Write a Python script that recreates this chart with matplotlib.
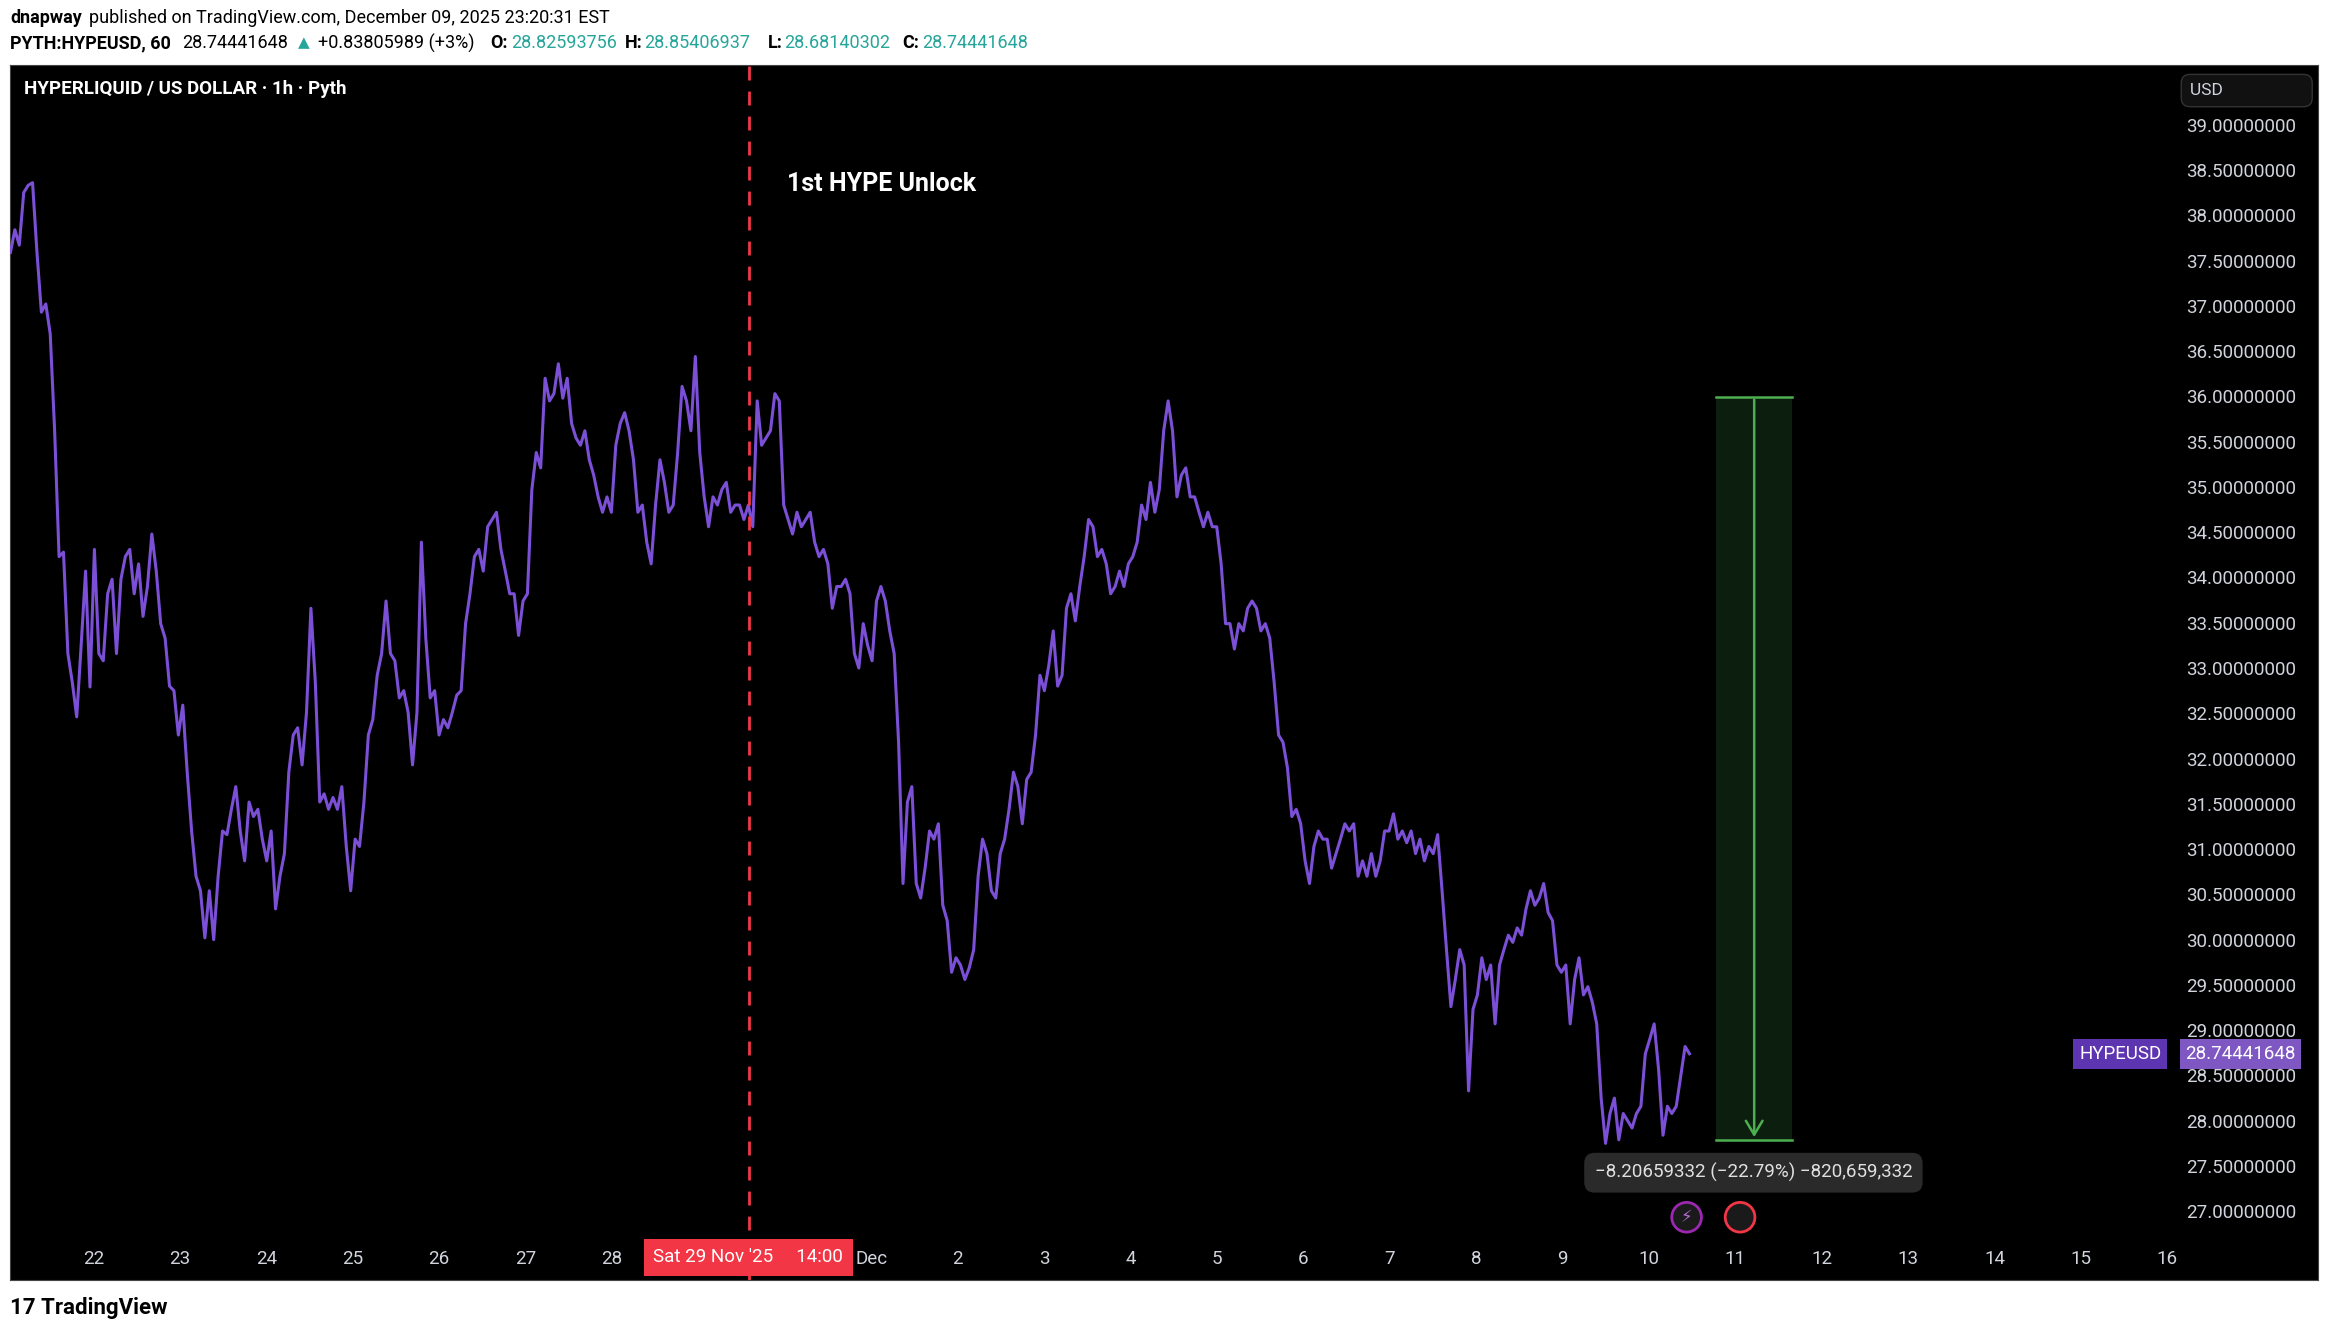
import numpy as np
import pandas as pd
import matplotlib
matplotlib.use("Agg")
import matplotlib.pyplot as plt
import matplotlib.dates as mdates
from matplotlib.patches import Rectangle, Ellipse

# closes, evenly spaced in time
price = [
    37.59, 37.84, 37.67, 38.25, 38.33, 38.36, 37.59, 36.93, 37.02, 36.69, 35.62, 34.23, 34.28, 33.16, 32.84,
    32.46, 33.25, 34.07, 32.79, 34.31, 33.16, 33.08, 33.82, 33.98, 33.16, 33.98, 34.23, 34.31, 33.82, 34.15,
    33.57, 33.90, 34.48, 34.07, 33.49, 33.33, 32.80, 32.75, 32.26, 32.59, 31.85, 31.20, 30.70, 30.54, 30.02, 30.54,
    30.00, 30.70, 31.20, 31.16, 31.44, 31.69, 31.20, 30.87, 31.52, 31.36, 31.44, 31.11, 30.87, 31.20, 30.34, 30.70,
    30.95, 31.85, 32.26, 32.34, 31.93, 32.51, 33.66, 32.84, 31.52, 31.61, 31.44, 31.57, 31.44, 31.69, 31.03, 30.54,
    31.11, 31.03, 31.52, 32.26, 32.43, 32.92, 33.16, 33.74, 33.16, 33.08, 32.67, 32.75, 32.51, 31.93, 32.51,
    34.39, 33.33, 32.67, 32.75, 32.26, 32.43, 32.34, 32.51, 32.70, 32.75, 33.49, 33.82, 34.23, 34.31, 34.07, 34.56,
    34.64, 34.72, 34.31, 34.07, 33.82, 33.82, 33.36, 33.74, 33.82, 34.97, 35.38, 35.21, 36.20, 35.95, 36.03, 36.36,
    35.98, 36.20, 35.70, 35.54, 35.46, 35.62, 35.30, 35.13, 34.89, 34.72, 34.89, 34.72, 35.46, 35.70, 35.82, 35.62,
    35.30, 34.72, 34.80, 34.39, 34.15, 34.80, 35.30, 35.05, 34.72, 34.80, 35.38, 36.11, 35.95, 35.62, 36.44, 35.38,
    34.89, 34.56, 34.89, 34.80, 34.97, 35.05, 34.72, 34.80, 34.80, 34.64, 34.80, 34.56, 35.95, 35.46, 35.54, 35.62,
    36.03, 35.95, 34.80, 34.64, 34.48, 34.72, 34.56, 34.64, 34.72, 34.39, 34.23, 34.31, 34.15, 33.66, 33.90, 33.90,
    33.98, 33.82, 33.16, 33.00, 33.49, 33.25, 33.08, 33.74, 33.90, 33.74, 33.41, 33.16, 32.18, 30.62, 31.52, 31.69,
    30.62, 30.46, 30.79, 31.20, 31.11, 31.28, 30.38, 30.21, 29.64, 29.80, 29.72, 29.56, 29.69, 29.89, 30.70, 31.11,
    30.95, 30.54, 30.46, 30.95, 31.11, 31.44, 31.85, 31.69, 31.28, 31.77, 31.85, 32.26, 32.92, 32.75, 33.03, 33.41,
    32.80, 32.92, 33.66, 33.82, 33.52, 33.90, 34.23, 34.64, 34.56, 34.23, 34.31, 34.15, 33.82, 33.90, 34.07, 33.90,
    34.15, 34.23, 34.39, 34.80, 34.64, 35.05, 34.72, 34.97, 35.62, 35.95, 35.62, 34.89, 35.13, 35.21, 34.89, 34.89,
    34.72, 34.56, 34.72, 34.56, 34.56, 34.15, 33.49, 33.49, 33.21, 33.49, 33.41, 33.66, 33.74, 33.66, 33.41, 33.49,
    33.33, 32.84, 32.26, 32.18, 31.90, 31.36, 31.44, 31.28, 30.87, 30.62, 31.03, 31.20, 31.11, 31.11, 30.79, 30.95,
    31.11, 31.28, 31.20, 31.28, 30.70, 30.87, 30.70, 30.95, 30.70, 30.87, 31.20, 31.20, 31.39, 31.11, 31.20, 31.07,
    31.20, 30.95, 31.11, 30.87, 31.03, 30.95, 31.16, 30.54, 29.89, 29.26, 29.56, 29.89, 29.72, 28.33, 29.23, 29.39,
    29.80, 29.56, 29.72, 29.07, 29.72, 29.89, 30.05, 29.97, 30.13, 30.05, 30.34, 30.54, 30.38, 30.46, 30.62, 30.30,
    30.21, 29.72, 29.64, 29.72, 29.07, 29.56, 29.80, 29.39, 29.48, 29.31, 29.07, 28.25, 27.75, 28.08, 28.25, 27.79,
    28.08, 28.00, 27.92, 28.08, 28.16, 28.74, 28.90, 29.07, 28.57, 27.84, 28.16, 28.08, 28.16, 28.49, 28.82,
    28.74,
]
t_start = "2025-11-21 00:55"
t_end = "2025-12-10 11:17"
unlock_time = "2025-11-29 14:00"
box_start, box_end = "2025-12-10 18:45", "2025-12-11 15:45"
box_top, box_bottom = 35.9957, 27.789
last_price = 28.74441648
y_ticks = np.arange(27.0, 39.01, 0.5)
day_ticks = pd.date_range("2025-11-22", "2025-12-16", freq="D")
hidden_days = [pd.Timestamp("2025-11-29"), pd.Timestamp("2025-11-30")]  # under the red time label

times = pd.date_range(t_start, t_end, periods=len(price))
W, H = 1568, 900


def fx(px):
    return px / W


def fy(py):
    return 1 - py / H


fig = plt.figure(figsize=(23.28, 13.36), dpi=100)
fig.patch.set_facecolor("white")
plt.rcParams['font.family'] = ['Roboto', 'DejaVu Sans']
FS = 13.5
HS = 13

# black panel
panel = fig.add_axes([fx(7), fy(862), fx(1561 - 7), (862 - 44) / H])
panel.set_facecolor("black")
panel.set_xticks([]); panel.set_yticks([])
for s in panel.spines.values():
    s.set_color("#444444")

ax = fig.add_axes([fx(7), fy(862), fx(1462 - 7), (862 - 44) / H])
ax.patch.set_alpha(0)
for s in ax.spines.values():
    s.set_visible(False)
ax.plot(times, price, color="#7b4fd6", lw=2.2)
ax.set_xlim(pd.Timestamp(t_start) - pd.Timedelta(minutes=1), pd.Timestamp("2025-12-16 00:55"))
ax.set_ylim(26.246, 39.656)

ax.yaxis.tick_right()
ax.set_yticks(y_ticks)
ax.set_yticklabels([f"{v:.8f}" for v in y_ticks])
ax.tick_params(axis="y", length=0, pad=11, labelsize=FS, labelcolor="#d1d4dc")
ax.set_xticks([])

xt = ax.get_xaxis_transform()
for d in day_ticks:
    if d in hidden_days:
        continue
    lab = "Dec" if d.day == 1 else str(d.day)
    ax.text(d, 0.017, lab, transform=xt, color="#d1d4dc", fontsize=FS, ha="center", va="center", clip_on=False)

# unlock line
ut = pd.Timestamp(unlock_time)
ax.axvline(ut, color="#f23645", lw=2, ls=(0, (5, 4)))
fig.text(fx(504), fy(847), "Sat 29 Nov '25     14:00", color="white", fontsize=FS, va="center", ha="center",
         bbox=dict(boxstyle="square,pad=0.5", fc="#f23645", ec="none"), zorder=5)
fig.text(fx(530), fy(124), "1st HYPE Unlock", color="white", fontsize=18, fontweight="bold", va="center")
fig.text(fx(16), fy(60), "HYPERLIQUID / US DOLLAR · 1h · Pyth", color="white", fontsize=FS,
         fontweight="bold", va="center")

# measure box
b0, b1 = mdates.date2num(pd.Timestamp(box_start)), mdates.date2num(pd.Timestamp(box_end))
ax.add_patch(Rectangle((b0, box_bottom), b1 - b0, box_top - box_bottom, fc="#0c1f0f", ec="none"))
ax.plot([b0, b1], [box_top, box_top], color="#4caf50", lw=1.8)
ax.plot([b0, b1], [box_bottom, box_bottom], color="#4caf50", lw=1.8)
bm = (b0 + b1) / 2
ax.annotate("", xy=(bm, box_bottom), xytext=(bm, box_top),
            arrowprops=dict(arrowstyle="->,head_width=0.6,head_length=1.0", color="#4caf50", lw=1.8))
fig.text(fx(1181), fy(790), "−8.20659332 (−22.79%) −820,659,332", color="#e0e0e0", fontsize=FS,
         ha="center", va="center", bbox=dict(boxstyle="round,pad=0.55", fc="#2a2a2a", ec="none"))

# last price badge
fig.text(fx(1428), fy(710), "HYPEUSD", color="white", fontsize=FS, ha="center", va="center",
         bbox=dict(boxstyle="square,pad=0.3", fc="#5e35b1", ec="none"))
fig.text(fx(1509), fy(710), f"{last_price:.8f}", color="white", fontsize=FS, ha="center", va="center",
         bbox=dict(boxstyle="square,pad=0.3", fc="#7e57c2", ec="none"))

# USD box
fig.text(fx(1475), fy(61), "USD                   ", color="#d1d4dc", fontsize=FS - 1, va="center",
         bbox=dict(boxstyle="round,pad=0.5", fc="#111111", ec="#333333"))

# event icons
r = 10
for px, col in [(1136, "#9c27b0"), (1172, "#f23645")]:
    fig.patches.append(Ellipse((fx(px), fy(820)), 2 * r / W, 2 * r / H, transform=fig.transFigure,
                               fc="#1a1a1a", ec=col, lw=2))
fig.text(fx(1136), fy(820), "⚡", color="#b36bd6", fontsize=12, ha="center", va="center")

# header
fig.text(fx(7), fy(12), "dnapway", fontsize=HS, fontweight="bold", va="center")
fig.text(fx(60), fy(12), "published on TradingView.com, December 09, 2025 23:20:31 EST", fontsize=HS, va="center")
fig.text(fx(7), fy(29), "PYTH:HYPEUSD, 60", fontsize=HS, fontweight="bold", va="center")
fig.text(fx(123), fy(29), "28.74441648", fontsize=HS, va="center")
fig.text(fx(201), fy(29), "▲", fontsize=11, color="#26a69a", va="center")
fig.text(fx(214), fy(29), "+0.83805989 (+3%)", fontsize=HS, va="center")
for k, v, x0, w in [("O:", "28.82593756", 330, 14), ("H:", "28.85406937", 421, 13),
                    ("L:", "28.68140302", 517, 11), ("C:", "28.74441648", 608, 13)]:
    fig.text(fx(x0), fy(29), k, fontsize=HS, fontweight="bold", va="center")
    fig.text(fx(x0 + w), fy(29), v, fontsize=HS, color="#26a69a", va="center")
fig.text(fx(7), fy(881), "17 TradingView", fontsize=16, fontweight="bold", va="center")

fig.savefig("out.png", dpi=100, facecolor="white")
